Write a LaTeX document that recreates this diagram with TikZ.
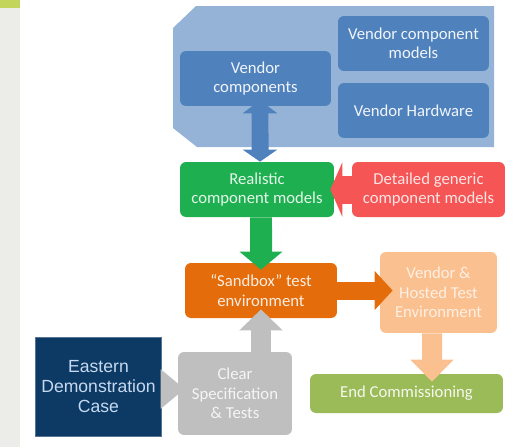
\documentclass[tikz,border=0pt]{standalone}
\usepackage{fontspec}
\setmainfont{Carlito}
\newfontfamily\arialfont{Liberation Sans}
\usetikzlibrary{arrows.meta, calc}
\definecolor{stripgray}{RGB}{236,236,232}
\definecolor{stripgreen}{RGB}{196,213,92}
\definecolor{shellblue}{RGB}{149,179,215}
\definecolor{vendorblue}{RGB}{79,129,189}
\definecolor{realgreen}{RGB}{30,176,80}
\definecolor{genred}{RGB}{245,85,85}
\definecolor{sandorange}{RGB}{228,108,10}
\definecolor{hostpeach}{RGB}{250,192,144}
\definecolor{endgreen}{RGB}{155,187,89}
\definecolor{specgray}{RGB}{191,191,191}
\definecolor{eastnavy}{RGB}{12,58,100}
\definecolor{easttext}{RGB}{198,217,241}

\begin{document}
\begin{tikzpicture}[
  x=0.02cm, y=-0.02cm,
  box/.style={rectangle, rounded corners=0.12cm, inner sep=1pt,
    align=center, font=\fontsize{9.5}{11}\selectfont},
  vendorbox/.style={box, fill=vendorblue, text=white!92!vendorblue,
    minimum width=3.02cm, minimum height=1.1cm},
  realbox/.style={box, fill=realgreen, text=white!88!realgreen,
    minimum width=3.08cm, minimum height=1.1cm},
  genbox/.style={box, fill=genred, text=white!85!genred,
    minimum width=3.06cm, minimum height=1.1cm},
  testbox/.style={box, fill=sandorange, text=white!88!sandorange,
    minimum width=3.04cm, minimum height=1.1cm},
  hostbox/.style={box, fill=hostpeach, text=white!75!hostpeach,
    minimum width=2.34cm, minimum height=1.62cm},
  endbox/.style={box, fill=endgreen, text=white!90!endgreen,
    minimum width=3.86cm, minimum height=0.78cm},
  specbox/.style={box, fill=specgray, text=white!85!specgray,
    minimum width=2.28cm, minimum height=1.66cm},
  eastbox/.style={rectangle, fill=eastnavy, draw=eastnavy!70!white,
    line width=0.4pt, text=easttext, align=center,
    minimum width=2.5cm, minimum height=1.98cm,
    font=\arialfont\fontsize{10}{11.6}\selectfont},
  fat/.style={line width=#1}
]
  \useasboundingbox (0,0) rectangle (531,447);
  % side strip
  \fill[stripgray] (0,0) rectangle (20,447);
  \fill[stripgreen] (0,0) rectangle (20,8);

  % vendor shell
  \fill[shellblue] (173,28) -- (196,6) -- (494,6) -- (494,147)
    -- (197,147) -- (173,128) -- cycle;

  \node[vendorbox] (vcomp)   at (255.5,78.5) {Vendor\\components};
  \node[vendorbox] (vmodels) at (413.5,43.5) {Vendor component\\models};
  \node[vendorbox] (vhw)     at (413.5,110.5) {Vendor Hardware};

  \node[realbox] (real)    at (257,189.5) {Realistic\\component models};
  \node[genbox]  (generic) at (428.5,189.5) {Detailed generic\\component models};

  \node[testbox] (sandbox) at (261,290.5) {``Sandbox'' test\\environment};
  \node[hostbox] (hosted)  at (438.5,292.5) {Vendor \&\\Hosted Test\\Environment};
  \node[endbox]  (endcomm) at (406.5,393.5) {End Commissioning};

  \node[specbox] (spec)    at (235,393.5) {Clear\\Specification\\\& Tests};
  \node[eastbox] (eastern) at (98.5,386.5) {Eastern\\Demonstration\\Case};

  % block arrows
  \draw[fat=0.34cm, vendorblue,
    {Triangle[length=0.26cm,width=0.68cm]}-{Triangle[length=0.24cm,width=0.68cm]}]
    ([xshift=0.09cm,yshift=0.12cm]vcomp.south) -- ([xshift=0.06cm]real.north);
  \draw[fat=0.44cm, realgreen, -{Triangle[length=0.36cm,width=0.84cm]}]
    ([xshift=0.08cm]real.south) -- ([yshift=-0.14cm]sandbox.north);
  \draw[fat=0.56cm, genred, -{Triangle[length=0.24cm,width=1.08cm]}]
    (generic.west) -- ([xshift=-0.08cm]real.east);
  \draw[fat=0.36cm, sandorange, -{Triangle[length=0.36cm,width=0.76cm]}]
    (sandbox.east) -- ($(hosted.west |- sandbox.east)+(13,0)$);
  \draw[fat=0.4cm, specgray, -{Triangle[length=0.42cm,width=0.84cm]}]
    (sandbox.south |- spec.north) -- ([yshift=0.18cm]sandbox.south);
  \draw[fat=0.4cm, hostpeach, -{Triangle[length=0.44cm,width=0.84cm]}]
    ([xshift=-0.13cm]hosted.south) -- ($(hosted.south |- endcomm.north)+(-6.5,8)$);
  \draw[fat=0.4cm, specgray, -{Triangle[length=0.48cm,width=0.76cm]}]
    ([yshift=-0.05cm]eastern.east) -- ($(spec.west |- eastern.east)+(7,2.5)$);
\end{tikzpicture}
\end{document}
